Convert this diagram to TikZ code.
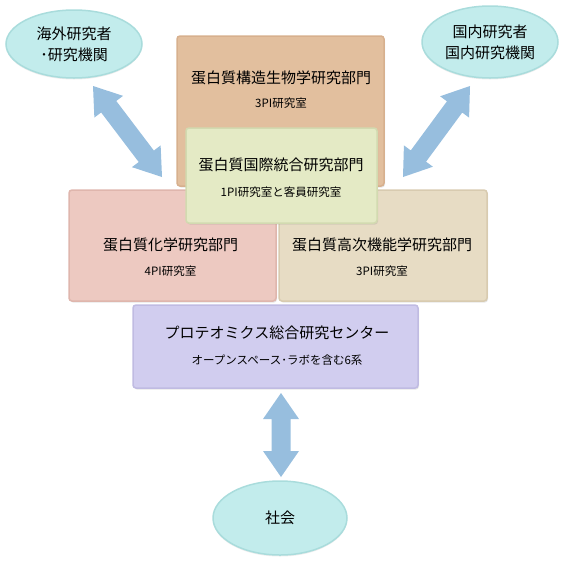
\documentclass[tikz,border=0pt]{standalone}
\usepackage{fontspec}
\setmainfont{Noto Sans CJK JP}
\usetikzlibrary{calc,shadows,shapes.geometric}
\definecolor{orF}{HTML}{E2BF9E}
\definecolor{orD}{HTML}{D7B08E}
\definecolor{grF}{HTML}{E4EAC5}
\definecolor{grD}{HTML}{D2DAB0}
\definecolor{piF}{HTML}{EDC9C1}
\definecolor{piD}{HTML}{DFB6AD}
\definecolor{beF}{HTML}{E7DCC4}
\definecolor{beD}{HTML}{D8CBB0}
\definecolor{puF}{HTML}{D1CDEF}
\definecolor{puD}{HTML}{C0BBE2}
\definecolor{elF}{HTML}{C2ECEC}
\definecolor{elD}{HTML}{A9DCDC}
\definecolor{arF}{HTML}{97BEDE}
\newcommand{\bigtxt}{\fontsize{15}{21}\selectfont}
\newcommand{\smalltxt}{\fontsize{11.5}{13}\selectfont}
\newcommand{\dblarr}[2]{%
  \coordinate (#1h) at ($(#1)!26pt!(#2)$);
  \coordinate (#2h) at ($(#2)!26pt!(#1)$);
  \fill[arF] (#1) -- ($(#1h)!18pt!90:(#2)$) -- ($(#1h)!9.5pt!90:(#2)$)
    -- ($(#2h)!9.5pt!-90:(#1)$) -- ($(#2h)!18pt!-90:(#1)$) -- (#2)
    -- ($(#2h)!18pt!90:(#1)$) -- ($(#2h)!9.5pt!90:(#1)$)
    -- ($(#1h)!9.5pt!-90:(#2)$) -- ($(#1h)!18pt!-90:(#2)$) -- cycle;}
\begin{document}
\begin{tikzpicture}[x=1pt,y=-1pt,
  panel/.style 2 args={rectangle, rounded corners=3pt, fill=#1, draw=#2,
    line width=1.5pt, inner sep=0pt,
    drop shadow={opacity=0.2, shadow xshift=1pt, shadow yshift=-1.5pt}},
  bubble/.style={ellipse, fill=elF, draw=elD, line width=1.5pt, inner sep=0pt,
    align=center, font=\bigtxt,
    drop shadow={opacity=0.15, shadow xshift=0pt, shadow yshift=-1.5pt}},
  big/.style={font=\bigtxt, inner sep=0pt},
  small/.style={font=\smalltxt, inner sep=0pt}]
\useasboundingbox (0,0) rectangle (564,563);
% arrows
\coordinate (la) at (93,86); \coordinate (lb) at (162,177);
\coordinate (ra) at (470,86); \coordinate (rb) at (403,177);
\coordinate (ba) at (281,393); \coordinate (bb) at (281,477);
\dblarr{la}{lb}
\dblarr{ra}{rb}
\dblarr{ba}{bb}
% ellipses
\node[bubble, minimum width=136pt, minimum height=68pt] (ovs) at (74,44) {海外研究者\\･研究機関};
\node[bubble, minimum width=136pt, minimum height=72pt] (dom) at (490,42) {国内研究者\\国内研究機関};
\node[bubble, minimum width=134pt, minimum height=74pt] (soc) at (280,518) {社会};
% boxes
\node[panel={orF}{orD}, minimum width=207pt, minimum height=150pt] (struct) at (280.5,111) {};
\node[panel={piF}{piD}, minimum width=207pt, minimum height=111pt] (chem) at (172.5,245.5) {};
\node[panel={beF}{beD}, minimum width=208pt, minimum height=111pt] (func) at (383,245.5) {};
\node[panel={grF}{grD}, minimum width=191pt, minimum height=95pt] (intl) at (281.5,175.5) {};
\node[panel={puF}{puD}, minimum width=285pt, minimum height=83pt] (prot) at (275.5,346.5) {};
% texts
\node[big] (structT) at (281,78) {蛋白質構造生物学研究部門};
\node[small] (structS) at (281,103) {3PI研究室};
\node[big] (intlT) at (281,165) {蛋白質国際統合研究部門};
\node[small] (intlS) at (281,192) {1PI研究室と客員研究室};
\node[big] (chemT) at (170.5,245) {蛋白質化学研究部門};
\node[small] (chemS) at (170.5,271) {4PI研究室};
\node[big] (funcT) at (382,245) {蛋白質高次機能学研究部門};
\node[small] (funcS) at (382,271) {3PI研究室};
\node[big] (protT) at (277,333) {プロテオミクス総合研究センター};
\node[small] (protS) at (277,360) {オープンスペース･ラボを含む6系};
\end{tikzpicture}
\end{document}
